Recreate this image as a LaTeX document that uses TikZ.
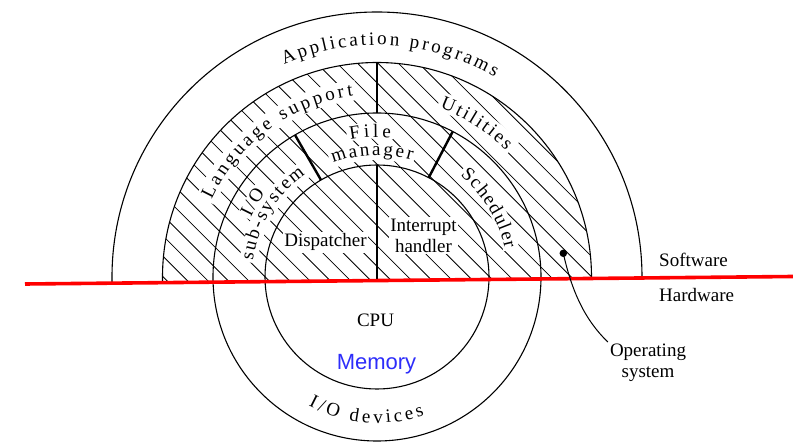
\documentclass[tikz,border=0pt]{standalone}
\usepackage{fontspec}
\setmainfont{Liberation Serif}
\newfontfamily\memfont{Liberation Sans}
\usetikzlibrary{decorations.text}
\definecolor{memblue}{RGB}{45,45,250}
\definecolor{splitred}{RGB}{255,0,0}
\newcommand\lblfont{\fontsize{19}{21}\selectfont}

\begin{document}
\begin{tikzpicture}[x=1pt,y=1pt,
  ring/.style={line width=1.1pt},
  hatchline/.style={line width=0.8pt},
  divider/.style={line width=2.4pt},
  knockout/.style={draw=white,line width=#1},
  label/.style={font=\lblfont,inner sep=0pt},
  boxed/.style={label,fill=white,inner sep=1.5pt},
  arctext/.style={decorate,decoration={text along path,text={|\lblfont|#1},text align={fit to path}}},
  splitline/.style={draw=splitred,line width=3.6pt},
]
\useasboundingbox (0,0) rectangle (793,442);
\coordinate (O) at (377,165);
\coordinate (redL) at (25,158);
\coordinate (redR) at (793,165.5);

% hatching of the software half-disc
\begin{scope}
  \clip (O) circle[radius=214.5pt];
  \clip (0,157.8) -- (793,165.5) -- (793,442) -- (0,442) -- cycle;
  \foreach \k in {-1,...,27} {
    \pgfmathsetmacro\c{328.3+20.4*\k}
    \draw[hatchline] (\c-400,400) -- (\c,0);
  }
\end{scope}

% white bands behind the curved labels
\draw[knockout=20pt] (O) ++(156:188pt) arc[start angle=156,end angle=96.5,radius=188pt];
\draw[knockout=19pt] (O) ++(70.5:187pt) arc[start angle=70.5,end angle=43.5,radius=187pt];
\draw[knockout=16pt] (O) ++(102:146.5pt) arc[start angle=102,end angle=83.5,radius=146.5pt];
\draw[knockout=15pt] (O) ++(112:124.5pt) arc[start angle=112,end angle=72.5,radius=124.5pt];
\draw[knockout=15pt] (O) ++(155.7:145.5pt) arc[start angle=155.7,end angle=142.3,radius=145.5pt];
\draw[knockout=18pt] (O) ++(173.5:129.5pt) arc[start angle=173.5,end angle=124,radius=129.5pt];
\draw[knockout=16pt] (O) ++(51.5:137pt) arc[start angle=51.5,end angle=11.5,radius=137pt];

% layers
\begin{scope}
  \clip (0,157.8) -- (793,165.5) -- (793,442) -- (0,442) -- cycle;
  \draw[ring] (O) circle[radius=265pt];
  \draw[ring] (O) circle[radius=214.5pt];
\end{scope}
\draw[ring] (O) circle[radius=164pt];
\draw[ring] (O) circle[radius=112pt];

% dividers
\path (O) ++(90:164pt) coordinate (topA) ++(0,50.5) coordinate (topB);
\path (O) ++(120:112pt) coordinate (leftA);
\path (O) ++(120:164pt) coordinate (leftB);
\path (O) ++(62.5:112pt) coordinate (rightA);
\path (O) ++(62.5:164pt) coordinate (rightB);
\path (O) ++(90:112pt) coordinate (coreA);
\coordinate (coreB) at (377,161.4);
\draw[divider] (topA) -- (topB);
\draw[divider] (leftA) -- (leftB);
\draw[divider] (rightA) -- (rightB);
\draw[divider] (coreA) -- (coreB);

% straight labels
\node[boxed,anchor=base] (disp) at (325.5,195) {Dispatcher};
\node[boxed,align=center] (intr) at (423.5,206.6) {Interrupt\\handler};
\node[label,anchor=base] (cpu) at (375.5,115) {CPU};
\node[inner sep=0pt,anchor=base,text=memblue,font=\memfont\fontsize{22}{26}\selectfont] (mem) at (376.5,72.7) {Memory};
\node[label,anchor=base west] (sw) at (659,175) {Software};
\node[label,anchor=base west] (hw) at (659,140) {Hardware};
\node[label,align=center,inner sep=2pt] (os) at (648,79) {Operating\\system};

% curved labels
\path[arctext={Application programs}] (O) ++(113.6:232pt) arc[start angle=113.6,end angle=59.5,radius=232pt];
\path[arctext={Language support}] (O) ++(155:182.5pt) arc[start angle=155,end angle=97.5,radius=182.5pt];
\path[arctext={Utilities}] (O) ++(69.6:180.5pt) arc[start angle=69.6,end angle=44.4,radius=180.5pt];
\path[arctext={File}] (O) ++(101:140pt) arc[start angle=101,end angle=84.5,radius=140pt];
\path[arctext={manager}] (O) ++(111:122pt) arc[start angle=111,end angle=73.5,radius=122pt];
\path[arctext={I/O}] (O) ++(154.7:139.5pt) arc[start angle=154.7,end angle=143.3,radius=139.5pt];
\path[arctext={sub-system}] (O) ++(172.6:125pt) arc[start angle=172.6,end angle=124.9,radius=125pt];
\path[arctext={Scheduler}] (O) ++(50.5:131pt) arc[start angle=50.5,end angle=12.5,radius=131pt];
\path[arctext={I/O devices}] (O) ++(-118:146pt) arc[start angle=-118,end angle=-71,radius=146pt];

% software / hardware boundary
\draw[splitline] (redL) -- (redR);

% operating system pointer
\node[circle,fill=black,inner sep=0pt,minimum size=7.5pt] (osdot) at (563.3,188.7) {};
\draw[line width=1pt] (osdot.center) .. controls (572,150) and (585,122) .. (os.north west);
\end{tikzpicture}
\end{document}
